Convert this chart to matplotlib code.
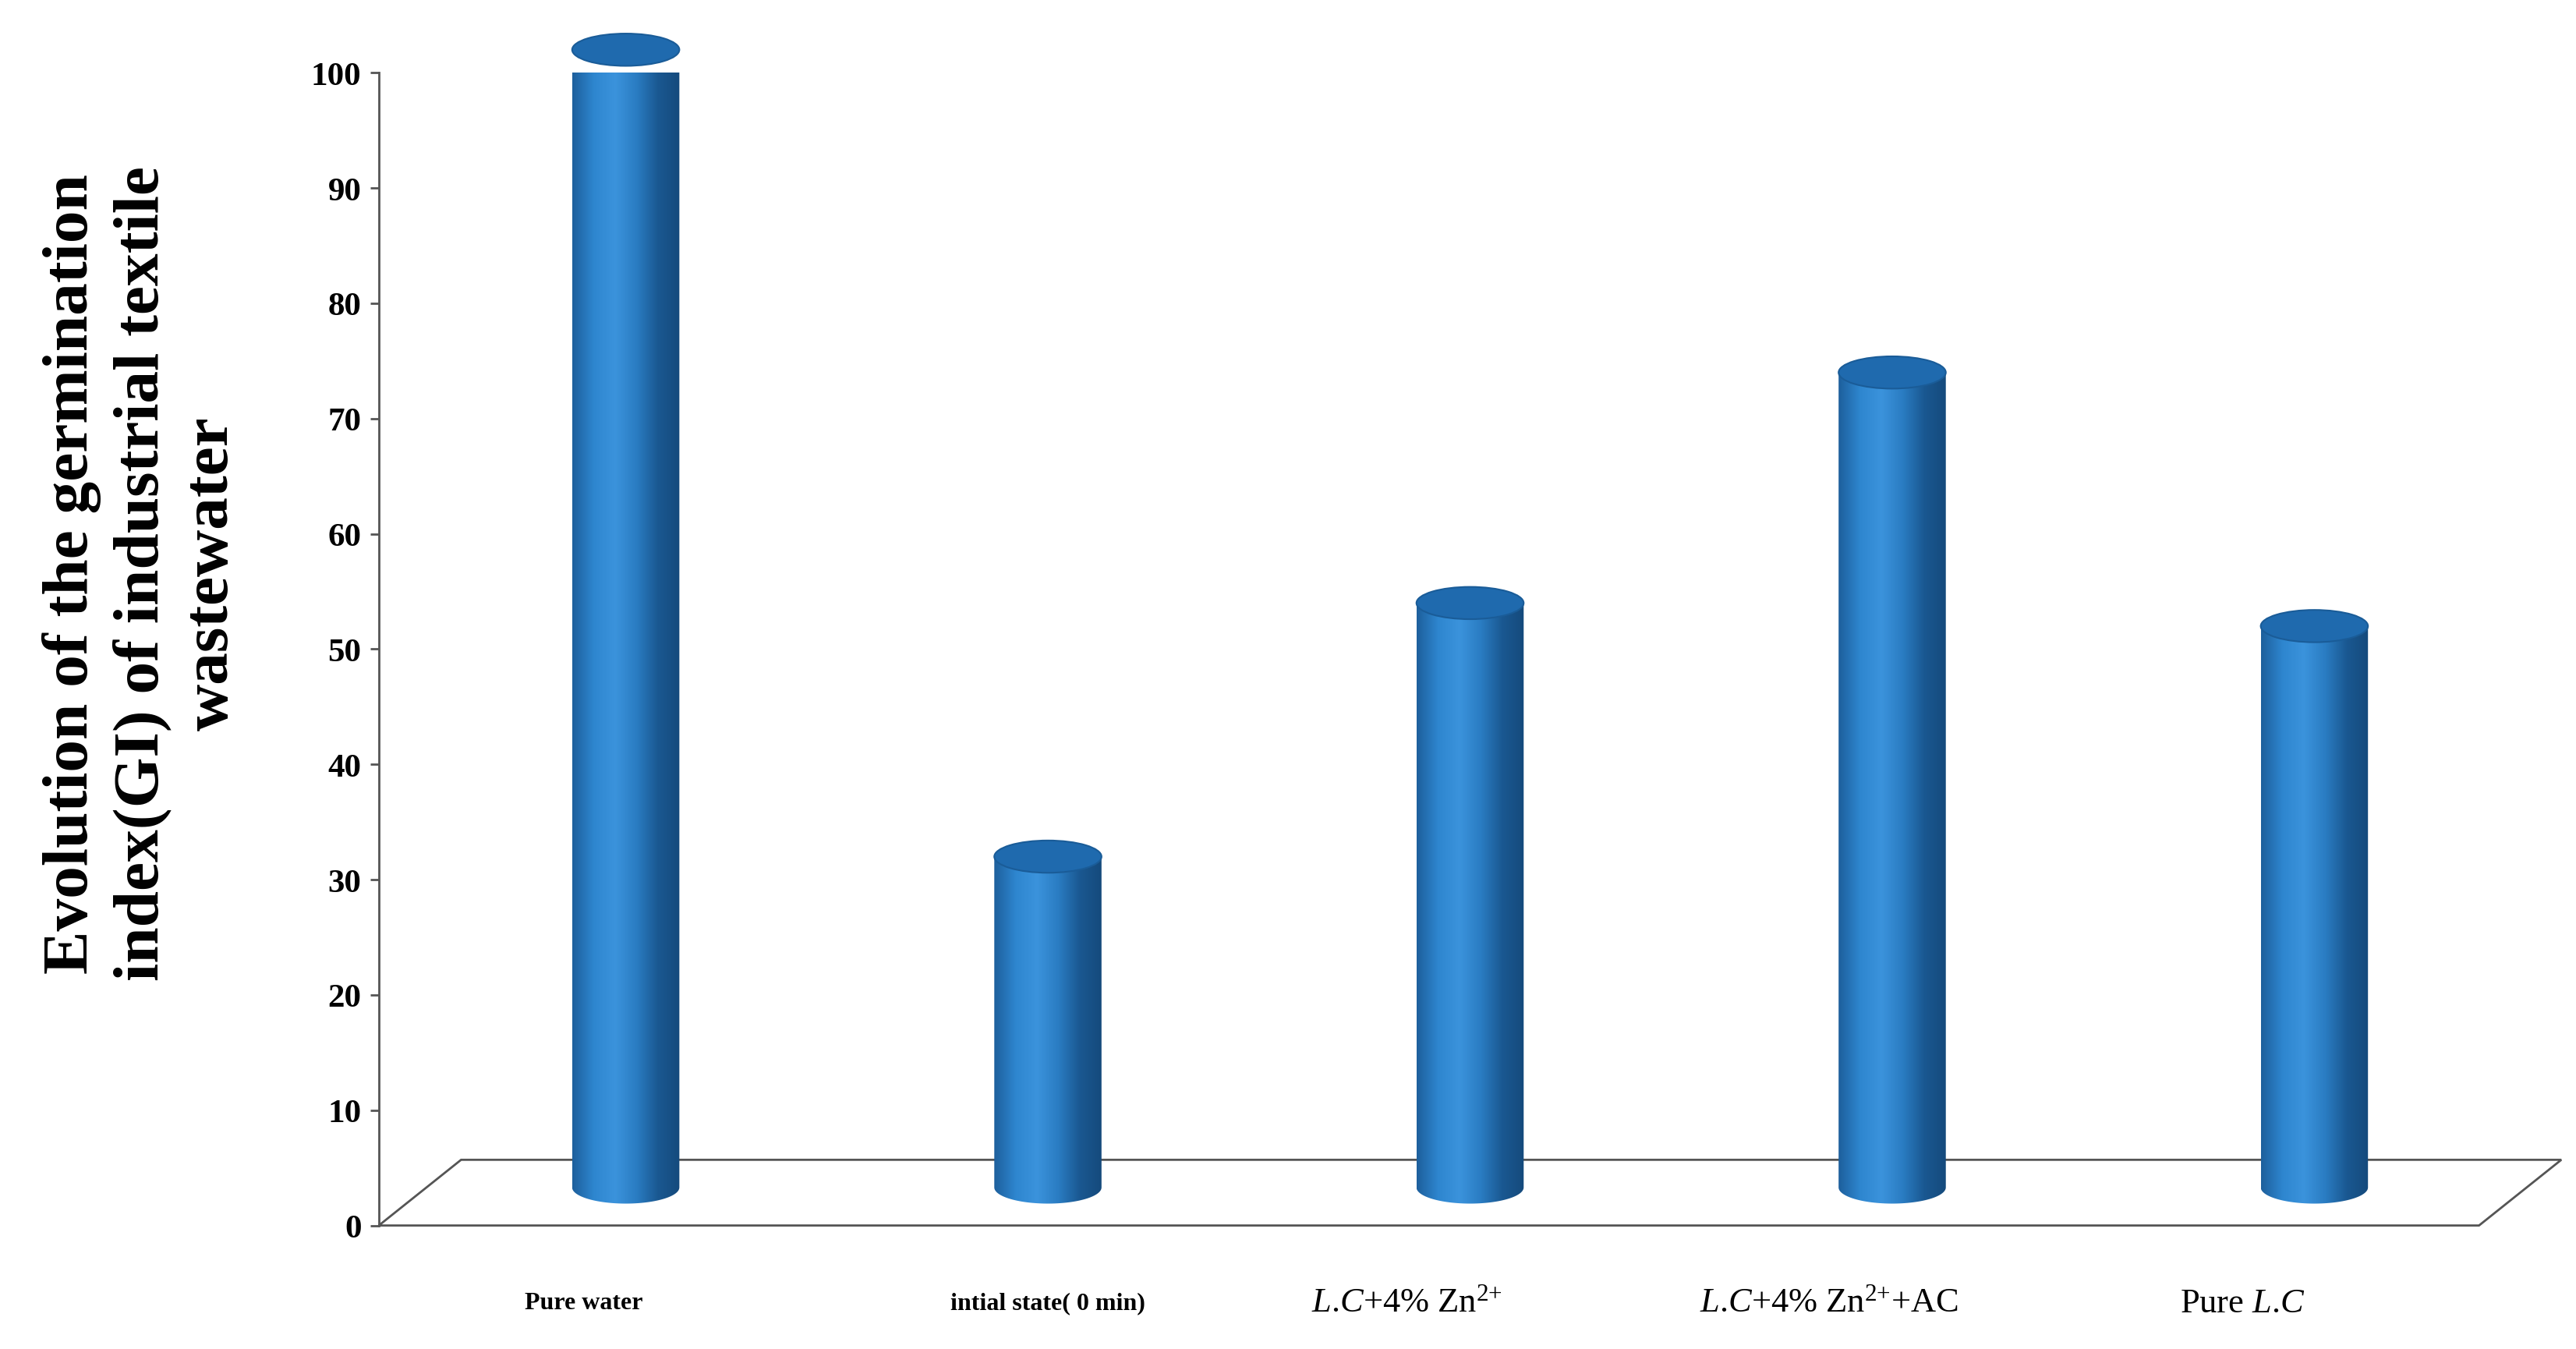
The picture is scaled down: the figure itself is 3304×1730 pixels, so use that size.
import numpy as np
import matplotlib
matplotlib.use("Agg")
import matplotlib.pyplot as plt
from matplotlib.patches import Polygon, Ellipse
from matplotlib.colors import LinearSegmentedColormap

categories = ["Pure water", "intial state( 0 min)", r"$\it{L}$.$\it{C}$+4% Zn$^{2{+}}$",
              r"$\it{L}$.$\it{C}$+4% Zn$^{2{+}}$+AC", r"Pure $\it{L}$.$\it{C}$"]
values = [100, 30, 52, 72, 50]
yticks = list(range(0, 101, 10))

plt.rcParams['font.family'] = ['Liberation Serif', 'DejaVu Serif']
plt.rcParams['mathtext.fontset'] = 'custom'
plt.rcParams['mathtext.rm'] = 'Liberation Serif'
plt.rcParams['mathtext.it'] = 'Liberation Serif:italic'

fig = plt.figure(figsize=(33.05, 17.31), dpi=100)
ax = fig.add_axes([0.147, 0.0915, 0.847, 0.854])
x0, x1 = -0.585, 4.585
ax.set_xlim(x0, x1)
ax.set_ylim(0, 100)
for s in ['top', 'right', 'bottom']:
    ax.spines[s].set_visible(False)
ax.spines['left'].set_color('#555555')
ax.spines['left'].set_linewidth(2)
ax.set_yticks(yticks)
ax.set_yticklabels([str(t) for t in yticks], fontsize=31, fontweight='bold')
ax.tick_params(axis='y', length=8, width=2, color='#555555', pad=8)
ax.set_xticks([])
ax.patch.set_alpha(0)

depth = 5.7
floor = Polygon([[x0, 0], [4.39, 0], [x1, depth], [-0.39, depth]], closed=True,
                facecolor='white', edgecolor='#555555', lw=2, zorder=1, clip_on=False)
ax.add_patch(floor)

cmap = LinearSegmentedColormap.from_list('cyl', ['#1d5f9c', '#2e86cf', '#3b93dc', '#2a7cc2', '#1a5891', '#154a7c'])
hw = 0.127
eh = 1.4
base = 3.3
offset = 2.0
for i, v in enumerate(values):
    top = v + offset
    t = np.linspace(np.pi, 2 * np.pi, 60)
    arc = np.column_stack([i + hw * np.cos(t), base + eh * np.sin(t)])
    pts = np.vstack([[[i - hw, top]], arc, [[i + hw, top]]])
    clip = Polygon(pts, closed=True, facecolor='none', edgecolor='none',
                   transform=ax.transData, clip_on=False)
    ax.add_patch(clip)
    grad = np.linspace(0, 1, 256).reshape(1, -1)
    im = ax.imshow(grad, cmap=cmap, aspect='auto', extent=[i - hw, i + hw, base - eh, top],
                   zorder=3, interpolation='bilinear')
    im.set_clip_path(clip)
    ax.add_patch(Ellipse((i, top), 2 * hw, 2 * eh, facecolor='#1f6aae',
                         edgecolor='#1a5c98', lw=1.5, zorder=4, clip_on=False))
ax.set_xlim(x0, x1)
ax.set_ylim(0, 100)

for i, c in enumerate(categories):
    if i < 2:
        ax.text(i - 0.1 if i == 0 else i, -6.7, c, ha='center', va='center', fontsize=23, fontweight='bold')
    else:
        ax.text(i - 0.15 if i < 4 else i - 0.17, -6.7, c, ha='center', va='center', fontsize=32)

fig.text(0.055, 0.575, "Evolution of the germination\nindex(GI) of industrial textile\nwastewater",
         rotation=90, ha='center', va='center', fontsize=60, fontweight='bold',
         multialignment='center', linespacing=1.25)

fig.savefig("out.png", dpi=100)
